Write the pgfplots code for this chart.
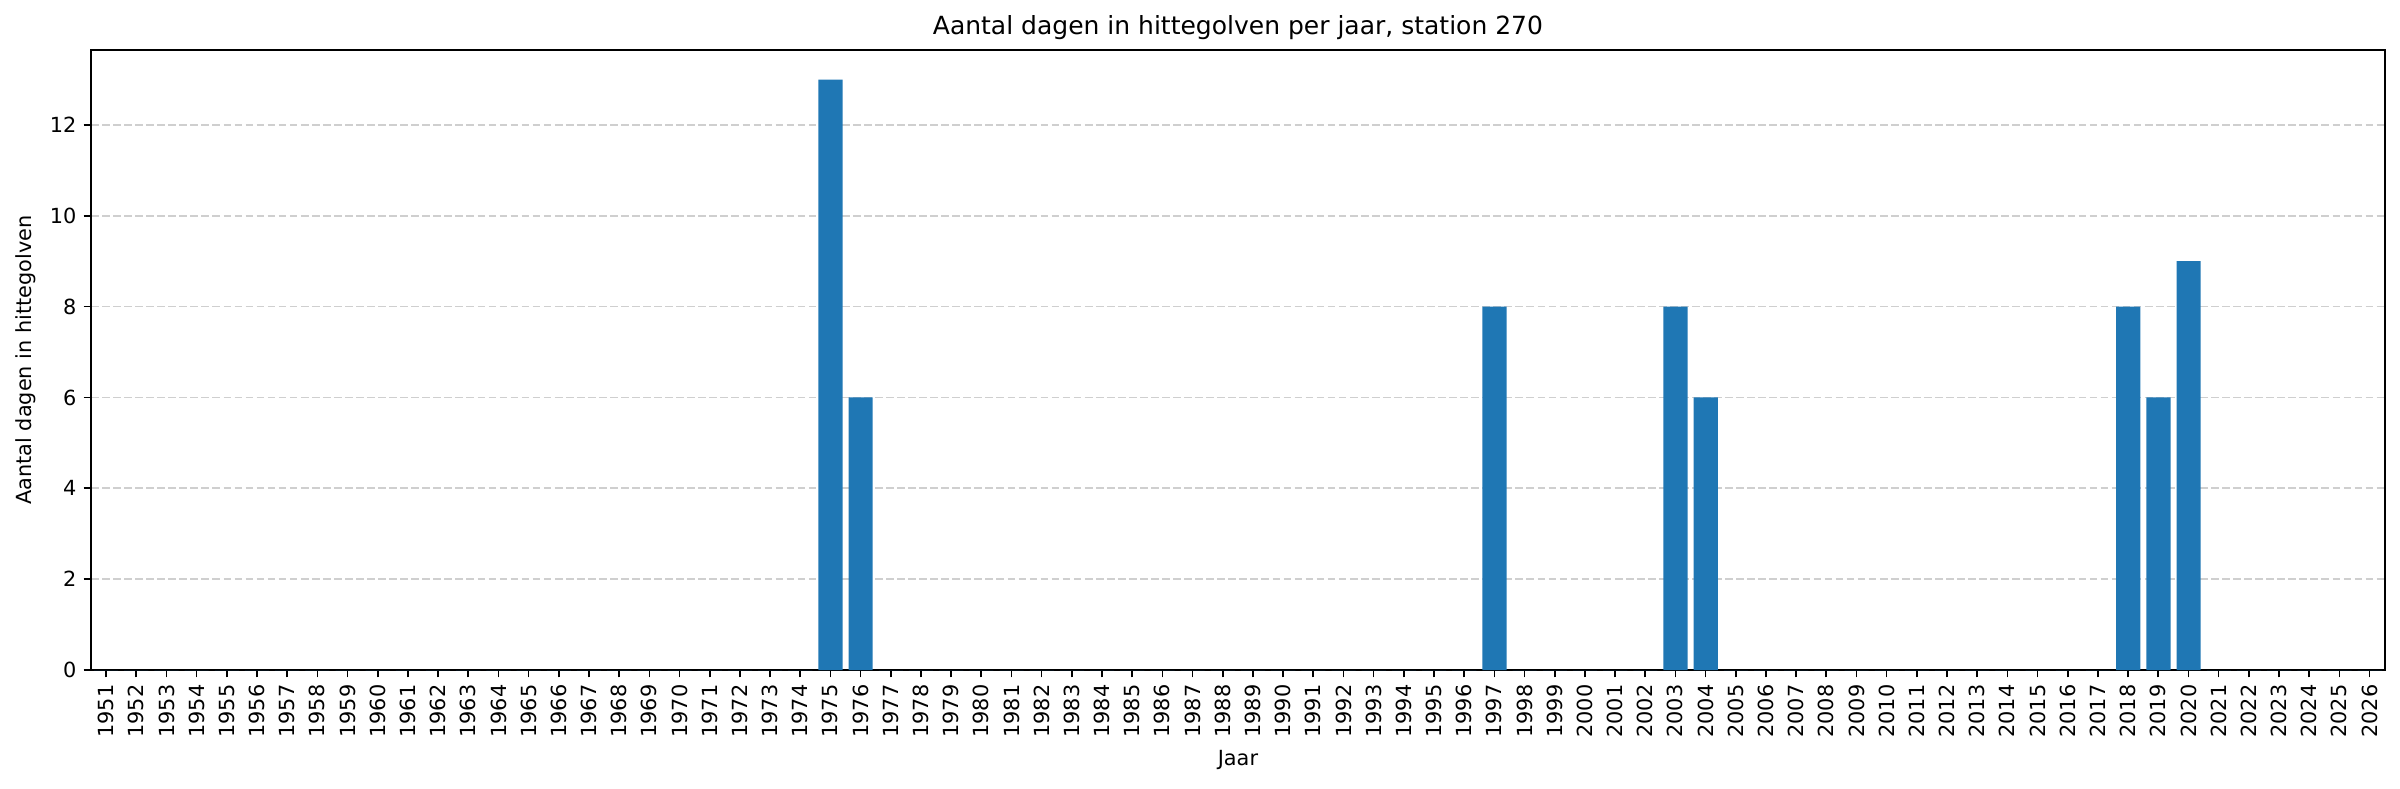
\documentclass[border=0pt]{standalone}
\usepackage{fontspec}
\setmainfont{DejaVu Sans}
\usepackage{pgfplots}
\pgfplotsset{compat=1.18}
\definecolor{barblue}{HTML}{1F77B4}
\begin{document}
\begin{tikzpicture}
\useasboundingbox (-43.7pt,-57.1pt) rectangle (1108.3pt,321.6pt);
\begin{axis}[
  at={(0pt,0pt)}, anchor=south west,
  scale only axis, width=1101pt, height=297.6pt,
  xmin=1950.5, xmax=2026.5, ymin=0, ymax=13.65,
  ybar, bar width=0.8, bar shift=0pt,
  xtick={1951,...,2026}, ytick={0,2,4,6,8,10,12},
  xticklabel={\pgfmathparse{int(round(\tick))}\pgfmathresult},
  xtick pos=bottom, ytick pos=left,
  tick align=outside, major tick length=3.5pt,
  every tick/.style={black, line width=0.8pt},
  axis line style={line width=0.8pt},
  /pgf/number format/assume math mode=true,
  /pgf/number format/1000 sep={},
  tick label style={font=\fontsize{10}{12}\selectfont},
  x tick label style={rotate=90, anchor=east},
  ymajorgrids,
  major grid style={color=black!19, line width=0.8pt, dash pattern=on 3.7pt off 1.6pt},
  title={Aantal dagen in hittegolven per jaar, station 270},
  title style={font=\fontsize{12}{14}\selectfont, at={(axis description cs:0.5,1.0155)}, anchor=center, yshift=0pt},
  xlabel={Jaar},
  xlabel style={font=\fontsize{10}{12}\selectfont, at={(axis description cs:0.5,-0.1445)}, anchor=center},
  ylabel={Aantal dagen in hittegolven},
  ylabel style={font=\fontsize{10}{12}\selectfont, at={(axis description cs:-0.0286,0.5)}, anchor=center, rotate=0},
]
\addplot[draw=none, fill=barblue] coordinates {
(1951,0) (1952,0) (1953,0) (1954,0) (1955,0) (1956,0) (1957,0) (1958,0) (1959,0) (1960,0)
(1961,0) (1962,0) (1963,0) (1964,0) (1965,0) (1966,0) (1967,0) (1968,0) (1969,0) (1970,0)
(1971,0) (1972,0) (1973,0) (1974,0) (1975,13) (1976,6) (1977,0) (1978,0) (1979,0) (1980,0)
(1981,0) (1982,0) (1983,0) (1984,0) (1985,0) (1986,0) (1987,0) (1988,0) (1989,0) (1990,0)
(1991,0) (1992,0) (1993,0) (1994,0) (1995,0) (1996,0) (1997,8) (1998,0) (1999,0) (2000,0)
(2001,0) (2002,0) (2003,8) (2004,6) (2005,0) (2006,0) (2007,0) (2008,0) (2009,0) (2010,0)
(2011,0) (2012,0) (2013,0) (2014,0) (2015,0) (2016,0) (2017,0) (2018,8) (2019,6) (2020,9)
(2021,0) (2022,0) (2023,0) (2024,0) (2025,0) (2026,0)
};
\end{axis}
\end{tikzpicture}
\end{document}
